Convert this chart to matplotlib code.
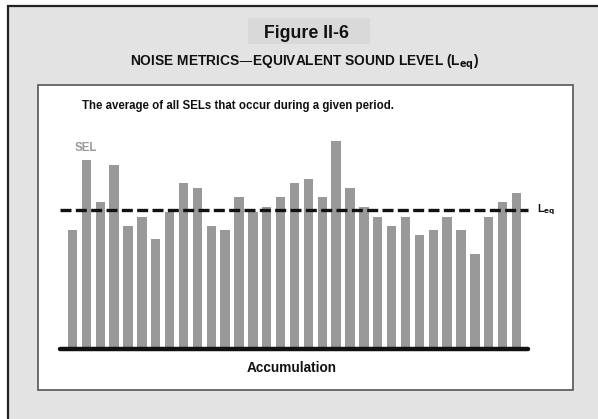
import matplotlib
matplotlib.use("Agg")
import matplotlib.pyplot as plt
from matplotlib.patches import Rectangle
import numpy as np

# ---- data ----
events = list(range(1, 34))
sel_levels = [119, 189, 147, 184, 123, 132, 110, 137, 166, 161, 123, 119, 152, 137, 142,
              152, 166, 170, 152, 208, 161, 142, 132, 123, 132, 114, 119, 132, 119, 95,
              132, 147, 156]
leq_level = 139

fig_title = "Figure II-6"
sub_title = "NOISE METRICS\u2014EQUIVALENT SOUND LEVEL (L$_{\\mathbf{eq}}$)"
note = "The average of all SELs that occur during a given period."
sel_label = "SEL"
leq_label = "L$_{\\mathbf{eq}}$"
x_label = "Accumulation"

W, H = 598, 419
fig = plt.figure(figsize=(W / 100, H / 100), dpi=100)
fig.patch.set_facecolor("white")

FONT = "Liberation Sans"

# background axes in pixel coordinates
bg = fig.add_axes([0, 0, 1, 1])
bg.set_xlim(0, W)
bg.set_ylim(H, 0)
bg.axis("off")

# outer gray frame
bg.add_patch(Rectangle((8, 6), W + 20, H + 20, facecolor="#e3e3e3",
                       edgecolor="#222222", linewidth=1.6))
# title box
bg.add_patch(Rectangle((248, 18), 122, 26, facecolor="#d9d9d9", edgecolor="none"))
# white inner panel
bg.add_patch(Rectangle((38, 85), 535, 305, facecolor="white",
                       edgecolor="#555555", linewidth=1.2))

bg.text(306, 34, fig_title, ha="center", va="center", fontsize=12.8,
        fontweight="bold", family=FONT, color="#111111")
bg.text(305, 62, sub_title, ha="center", va="center", fontsize=9.9,
        fontweight="bold", family=FONT, color="#111111")
bg.text(82, 106, note, ha="left", va="center", fontsize=8.3,
        fontweight="bold", family=FONT, color="#111111")
bg.text(292, 368, x_label, ha="center", va="center", fontsize=9.8,
        fontweight="bold", family=FONT, color="#111111")

# bar axes
left_px, right_px = 60, 528
bottom_px, top_px = 349, 130
ax = fig.add_axes([left_px / W, (H - bottom_px) / H,
                   (right_px - left_px) / W, (bottom_px - top_px) / H])
ax.set_facecolor("none")
ax.axis("off")
ax.set_xlim(0.1, 33.83)
ax.set_ylim(0, bottom_px - top_px)

ax.bar(events, sel_levels, width=0.68, color="#999999", edgecolor="none", zorder=2)
ax.plot([0.1, 33.83], [0, 0], color="#111111", linewidth=3.2,
        solid_capstyle="round", clip_on=False, zorder=3)
ax.plot([0.1, 33.83], [leq_level, leq_level], color="#111111", linewidth=2.4,
        dashes=(3.3, 1.3), clip_on=False, zorder=4)

ax.text(1.97, 201, sel_label, ha="center", va="center", fontsize=8.3,
        fontweight="bold", family=FONT, color="#999999")
ax.text(34.45, leq_level, leq_label, ha="left", va="center", fontsize=7.5,
        fontweight="bold", family=FONT, color="#111111")

fig.savefig("out.png", dpi=100)
